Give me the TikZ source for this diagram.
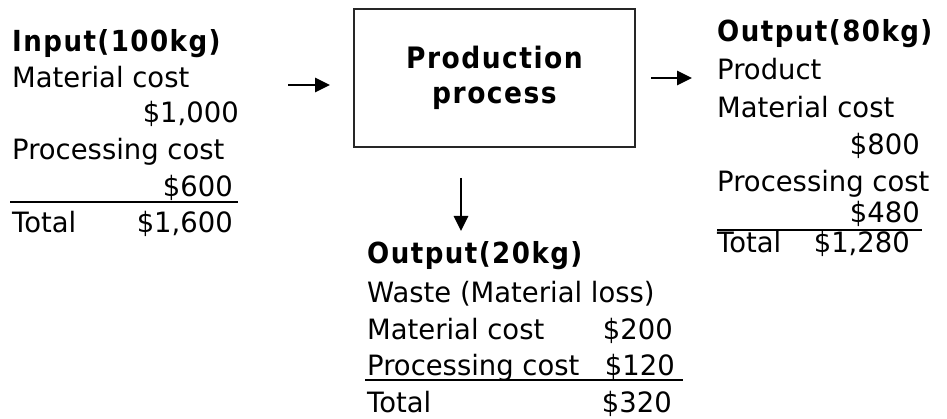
\documentclass[tikz,border=0pt]{standalone}
\usepackage{fontspec}
\setmainfont[FakeStretch=0.98]{DejaVu Sans}
\newfontfamily\headfont[FakeStretch=0.9, LetterSpace=5]{DejaVu Sans}
\usetikzlibrary{arrows.meta}
\begin{document}
\begin{tikzpicture}[x=1pt,y=-1pt,
  txt/.style={inner sep=0pt, font=\fontsize{28}{32}\selectfont},
  head/.style={inner sep=0pt, font=\headfont\bfseries\fontsize{29}{34}\selectfont},
  procbox/.style={draw=black!85, line width=1.2pt, minimum width=281pt,
    minimum height=138pt, align=center, inner sep=0pt,
    font=\headfont\bfseries\fontsize{29.5}{35}\selectfont},
  rule/.style={line width=2pt},
  flow/.style={line width=2.8pt, -{Triangle[length=15pt,width=14pt]}}]
\useasboundingbox (0,0) rectangle (947,419);

% input side
\node[head, anchor=base west] (inHead) at (12,52) {Input(100kg)};
\node[txt, anchor=base west] (inMat) at (12,88) {Material cost};
\node[txt, anchor=base east] (inMatV) at (239,123) {\$1,000};
\node[txt, anchor=base west] (inProc) at (12,160) {Processing cost};
\node[txt, anchor=base east] (inProcV) at (233,197) {\$600};
\draw[rule] (10,202) -- (238,202);
\node[txt, anchor=base west] (inTot) at (12,233) {Total};
\node[txt, anchor=base east] (inTotV) at (233,233) {\$1,600};

% production process
\node[procbox] (proc) at (494.5,78) {Production\\process};

% product output
\node[head, anchor=base west] (prHead) at (717,42) {Output(80kg)};
\node[txt, anchor=base west] (prName) at (717,80) {Product};
\node[txt, anchor=base west] (prMat) at (717,118) {Material cost};
\node[txt, anchor=base east] (prMatV) at (920,155) {\$800};
\node[txt, anchor=base west] (prProc) at (717,192) {Processing cost};
\node[txt, anchor=base east] (prProcV) at (920,223) {\$480};
\draw[rule] (717,230) -- (922,230);
\node[txt, anchor=base west] (prTot) at (717,253) {Total};
\node[txt, anchor=base east] (prTotV) at (910,253) {\$1,280};

% waste output
\node[head, anchor=base west] (wsHead) at (367,264) {Output(20kg)};
\node[txt, anchor=base west] (wsName) at (367,303) {Waste (Material loss)};
\node[txt, anchor=base west] (wsMat) at (367,340) {Material cost};
\node[txt, anchor=base east] (wsMatV) at (673,340) {\$200};
\node[txt, anchor=base west] (wsProc) at (367,375) {Processing cost};
\node[txt, anchor=base east] (wsProcV) at (675,375) {\$120};
\draw[rule] (365,380) -- (683,380);
\node[txt, anchor=base west] (wsTot) at (367,412) {Total};
\node[txt, anchor=base east] (wsTotV) at (672,412) {\$320};

% flow arrows
\coordinate (inOut) at (288,85);
\coordinate (procIn) at (330,85);
\coordinate (procOut) at (651,78);
\coordinate (prIn) at (692,78);
\coordinate (procDown) at (461,178);
\coordinate (wsIn) at (461,231);
\draw[flow] (inOut) -- (procIn);
\draw[flow] (procOut) -- (prIn);
\draw[flow] (procDown) -- (wsIn);
\end{tikzpicture}
\end{document}
